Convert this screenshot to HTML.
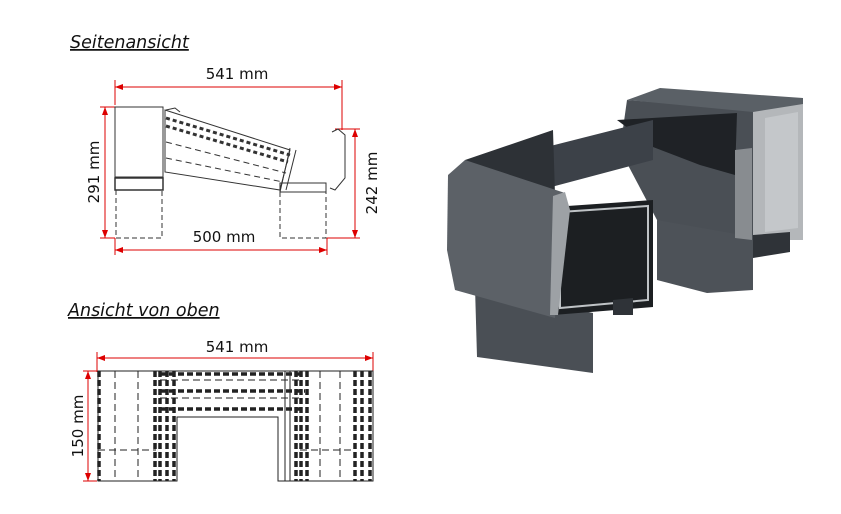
<!DOCTYPE html>
<html><head><meta charset="utf-8"><style>
html,body{margin:0;padding:0;background:#fff;}
svg{display:block;}
text{font-family:"DejaVu Sans","Liberation Sans",sans-serif;fill:#111;}
</style></head><body>
<svg width="841" height="514" viewBox="0 0 841 514" xmlns="http://www.w3.org/2000/svg">
<defs>
<marker id="a" markerWidth="8" markerHeight="6" refX="8" refY="3" orient="auto"><path d="M0,0 L8,3 L0,6 z" fill="#d00"/></marker>
<marker id="b" markerWidth="8" markerHeight="6" refX="0" refY="3" orient="auto"><path d="M8,0 L0,3 L8,6 z" fill="#d00"/></marker>
</defs>
<text x="70" y="48" font-size="17.5" font-style="italic" text-decoration="underline">Seitenansicht</text>
<text x="68" y="316" font-size="17.5" font-style="italic" text-decoration="underline">Ansicht von oben</text>

<g stroke="#d00" stroke-width="1" fill="none">
<line x1="115" y1="87" x2="342" y2="87" marker-start="url(#b)" marker-end="url(#a)"/>
<line x1="115" y1="80" x2="115" y2="105"/><line x1="342" y1="80" x2="342" y2="130"/>
<line x1="105" y1="107" x2="105" y2="238" marker-start="url(#b)" marker-end="url(#a)"/>
<line x1="100" y1="107" x2="115" y2="107"/><line x1="100" y1="238" x2="115" y2="238"/>
<line x1="115" y1="250" x2="327" y2="250" marker-start="url(#b)" marker-end="url(#a)"/>
<line x1="115" y1="238" x2="115" y2="255"/><line x1="327" y1="238" x2="327" y2="255"/>
<line x1="355" y1="129" x2="355" y2="238" marker-start="url(#b)" marker-end="url(#a)"/>
<line x1="335" y1="129" x2="360" y2="129"/><line x1="327" y1="238" x2="360" y2="238"/>
</g>
<text x="237" y="79" font-size="15" text-anchor="middle">541 mm</text>
<text x="224" y="242" font-size="15" text-anchor="middle">500 mm</text>
<text transform="translate(99,172) rotate(-90)" font-size="15" text-anchor="middle">291 mm</text>
<text transform="translate(377,183) rotate(-90)" font-size="15" text-anchor="middle">242 mm</text>
<g stroke="#333" stroke-width="1" fill="none">
<rect x="115" y="107" width="48" height="70"/>
<rect x="115" y="178" width="48" height="12" stroke-width="1.5"/>
<path d="M116,190 V238 H162 V190" stroke-dasharray="5,3"/>
<path d="M280,192 V238 H326 V192" stroke-dasharray="5,3"/>
<rect x="280" y="183" width="46" height="9"/>
<path d="M165,110 L290,150 L280,190 L165,172 Z"/>
<path d="M166,118 L290,155" stroke-dasharray="4,3" stroke-width="3"/>
<path d="M166,126 L288,162" stroke-dasharray="4,3" stroke-width="3"/>
<path d="M166,142 L286,173" stroke-dasharray="6,4"/>
<path d="M166,158 L283,182" stroke-dasharray="6,4"/>
<path d="M290,148 L280,192 M296,150 L286,190"/>
<path d="M166,110 L175,108 L180,112 M332,132 L338,129 L345,135 L345,178 L335,190 L330,188"/>
</g>

<g stroke="#d00" stroke-width="1" fill="none">
<line x1="97" y1="358" x2="373" y2="358" marker-start="url(#b)" marker-end="url(#a)"/>
<line x1="97" y1="352" x2="97" y2="372"/><line x1="373" y1="352" x2="373" y2="372"/>
<line x1="88" y1="371" x2="88" y2="481" marker-start="url(#b)" marker-end="url(#a)"/>
<line x1="83" y1="371" x2="97" y2="371"/><line x1="83" y1="481" x2="97" y2="481"/>
</g>
<text x="237" y="352" font-size="15" text-anchor="middle">541 mm</text>
<text transform="translate(83,426) rotate(-90)" font-size="15" text-anchor="middle">150 mm</text>
<g stroke="#222" fill="none">
<path d="M98,371 H373 V481 H278 V417 H177 V481 H98 Z" stroke-width="1"/>
<g stroke-dasharray="6,3" stroke-width="3.5">
<line x1="99" y1="371" x2="99" y2="481"/><line x1="155" y1="371" x2="155" y2="481"/><line x1="160" y1="371" x2="160" y2="481"/>
<line x1="167" y1="371" x2="167" y2="481"/><line x1="174" y1="371" x2="174" y2="481"/>
<line x1="296" y1="371" x2="296" y2="481"/><line x1="301" y1="371" x2="301" y2="481"/><line x1="307" y1="371" x2="307" y2="481"/>
<line x1="355" y1="371" x2="355" y2="481"/><line x1="362" y1="371" x2="362" y2="481"/><line x1="370" y1="371" x2="370" y2="481"/>
<line x1="160" y1="374" x2="300" y2="374"/><line x1="160" y1="391" x2="305" y2="391"/><line x1="160" y1="409" x2="300" y2="409"/>
</g>
<g stroke-dasharray="7,4" stroke-width="1">
<line x1="115" y1="371" x2="115" y2="481"/><line x1="138" y1="371" x2="138" y2="481"/>
<line x1="320" y1="371" x2="320" y2="481"/><line x1="340" y1="371" x2="340" y2="481"/>
<line x1="98" y1="450" x2="156" y2="450"/><line x1="300" y1="450" x2="353" y2="450"/>
<line x1="160" y1="380" x2="300" y2="380"/><line x1="160" y1="398" x2="300" y2="398"/>
</g>
<line x1="285" y1="371" x2="285" y2="481"/><line x1="290" y1="371" x2="290" y2="481"/>
</g>

<g>
<polygon points="627,100 803,103 803,240 753,240 753,110" fill="#b4b7ba"/>
<polygon points="627,100 753,110 753,240 700,238 657,220 620,150" fill="#4a4f55"/>
<polygon points="765,118 798,112 798,228 765,232" fill="#c4c7ca"/>
<polygon points="627,100 660,88 803,98 803,104 753,112" fill="#5a6066"/>
<polygon points="657,220 753,237 753,290 707,293 657,280" fill="#4d5258"/>
<polygon points="753,235 790,232 790,252 753,258" fill="#2f3338"/>
<polygon points="617,120 737,113 735,175 700,165 653,147" fill="#1f2226"/>
<polygon points="735,150 752,148 752,240 735,238" fill="#888c90"/>
<polygon points="507,157 653,120 653,160 540,190" fill="#3c4148"/>
<polygon points="475,287 593,313 593,373 477,357" fill="#4a4f55"/>
<polygon points="465,160 553,130 555,195 470,180" fill="#2d3136"/>
<polygon points="448,175 465,160 565,193 555,318 455,290 447,250" fill="#5c6167"/>
<polygon points="553,207 653,200 653,307 553,315" fill="#1c1f22"/>
<polygon points="560,212 648,206 648,300 560,308" fill="none" stroke="#bfc3c6" stroke-width="2"/>
<polygon points="553,196 565,192 570,210 558,315 550,315" fill="#9da1a5"/>
<polygon points="613,300 633,298 633,315 613,315" fill="#2f3338"/>
</g>
</svg>
</body></html>
